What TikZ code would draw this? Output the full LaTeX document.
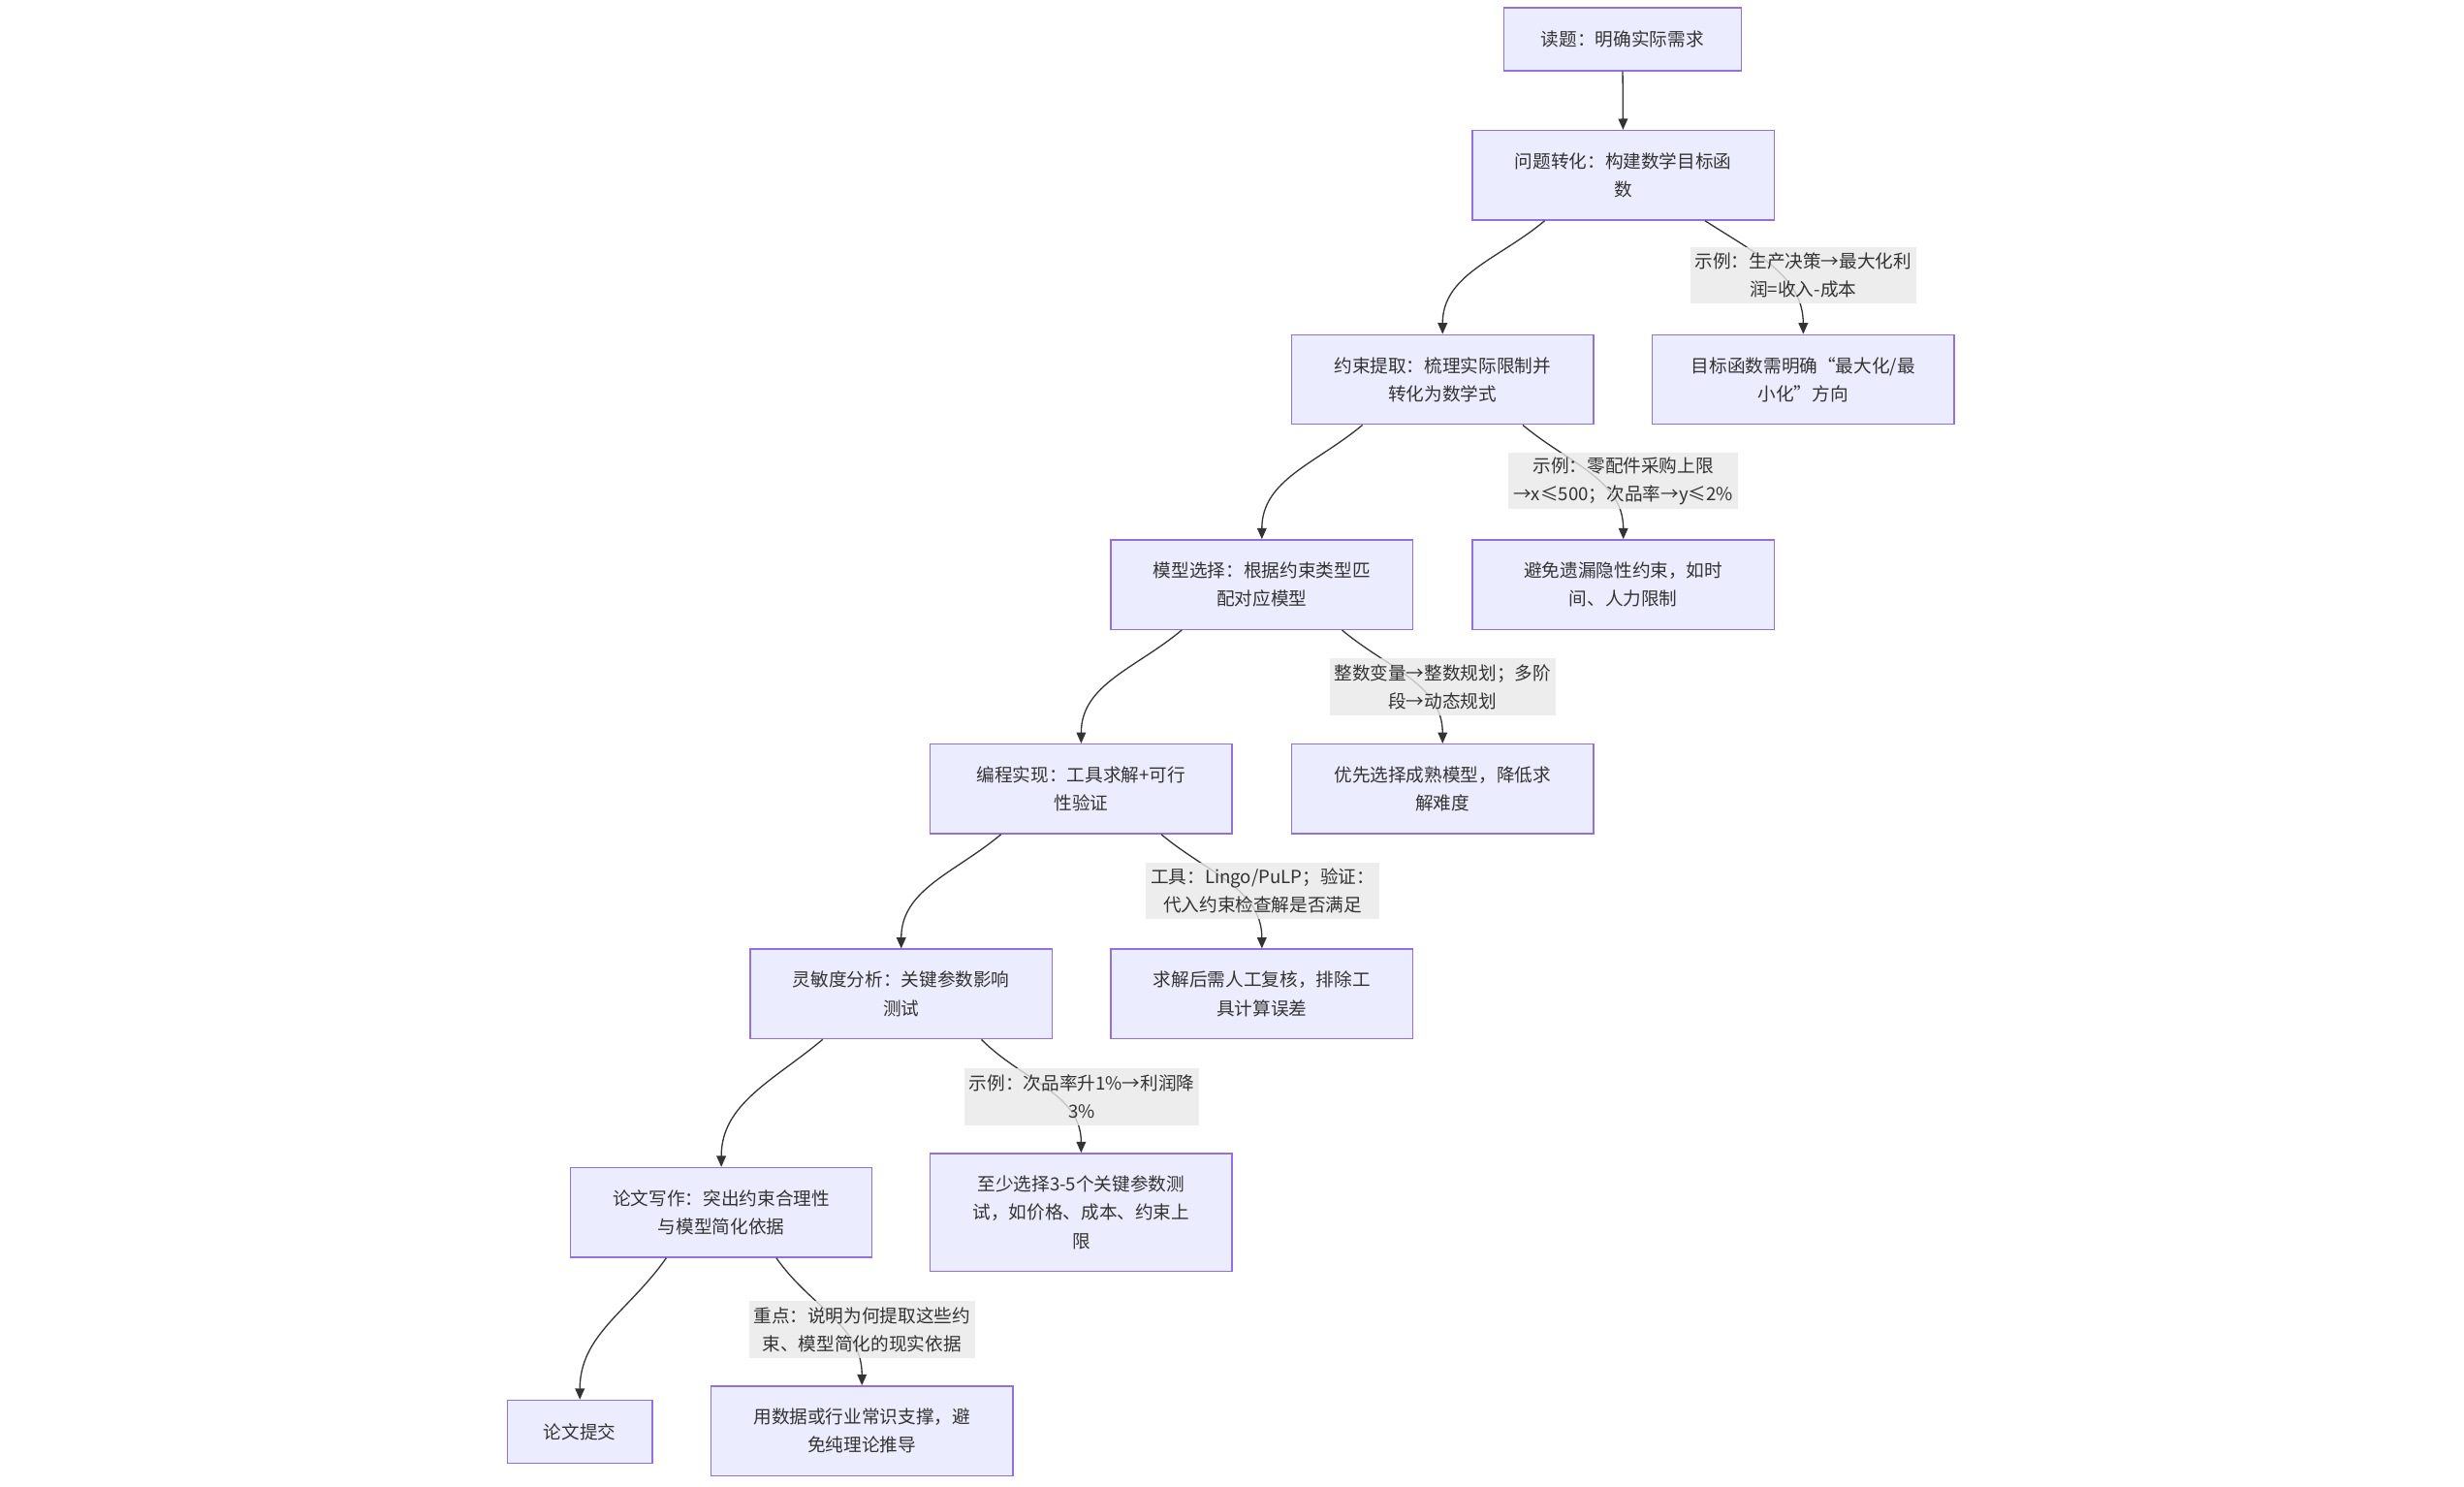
\documentclass[tikz,border=0pt]{standalone}
\usepackage{fontspec}
\newfontfamily\cjk{Noto Sans CJK SC}
\usetikzlibrary{arrows.meta}
\definecolor{boxfill}{HTML}{ECECFF}
\definecolor{boxline}{HTML}{9370DB}
\definecolor{txtgray}{HTML}{333333}
\definecolor{lblfill}{HTML}{E8E8E8}
\tikzset{
  stepbox/.style={draw=boxline, fill=boxfill, line width=0.9pt, minimum width=192pt,
    minimum height=57pt, inner sep=0pt, align=center, text=txtgray,
    font=\cjk\fontsize{11.5}{18}\selectfont},
  edgelabel/.style={fill=lblfill, fill opacity=0.8, text opacity=1, inner xsep=3pt,
    inner ysep=1pt, minimum height=36pt, align=center, text=txtgray,
    font=\cjk\fontsize{11.5}{18}\selectfont},
  flow/.style={draw=txtgray, line width=0.8pt, -{Triangle[length=7pt,width=6pt]}}
}
\begin{document}
\begin{tikzpicture}[x=1pt,y=-1pt]
                    \useasboundingbox (0,0) rectangle (1568,946);
                    \node[stepbox, minimum width=151pt, minimum height=40pt] (read) at (1032.5,25) {读题：明确实际需求};
                    \node[stepbox] (trans) at (1033,111.5) {问题转化：构建数学目标函\\数};
                    \node[stepbox] (cons) at (918,241.5) {约束提取：梳理实际限制并\\转化为数学式};
                    \node[stepbox] (obj) at (1147.5,241.5) {目标函数需明确“最大化/最\\小化”方向};
                    \node[stepbox] (model) at (803,372) {模型选择：根据约束类型匹\\配对应模型};
                    \node[stepbox] (hidden) at (1033,372) {避免遗漏隐性约束，如时\\间、人力限制};
                    \node[stepbox] (code) at (688,502) {编程实现：工具求解+可行\\性验证};
                    \node[stepbox] (mature) at (918,502) {优先选择成熟模型，降低求\\解难度};
                    \node[stepbox] (sens) at (573.5,632.5) {灵敏度分析：关键参数影响\\测试};
                    \node[stepbox] (check) at (803,632.5) {求解后需人工复核，排除工\\具计算误差};
                    \node[stepbox] (paper) at (459,771.5) {论文写作：突出约束合理性\\与模型简化依据};
                    \node[stepbox, minimum height=75pt] (param) at (688,771.5) {至少选择3-5个关键参数测\\试，如价格、成本、约束上\\限};
                    \node[stepbox, minimum width=92pt, minimum height=40pt] (submit) at (369,911) {论文提交};
                    \node[stepbox] (data) at (548.5,910.5) {用数据或行业常识支撑，避\\免纯理论推导};
                    \draw[flow] (read) -- (trans);
                    \draw[flow] ([xshift=-50pt]trans.south) to[out=-140,in=90] (cons.north);
                    \draw[flow] ([xshift=52pt]trans.south) to[out=-33,in=90] (obj.north);
                    \draw[flow] ([xshift=-51pt]cons.south) to[out=-140,in=90] (model.north);
                    \draw[flow] ([xshift=51pt]cons.south) to[out=-40,in=90] (hidden.north);
                    \draw[flow] ([xshift=-51pt]model.south) to[out=-140,in=90] (code.north);
                    \draw[flow] ([xshift=51pt]model.south) to[out=-40,in=90] (mature.north);
                    \draw[flow] ([xshift=-51pt]code.south) to[out=-140,in=90] (sens.north);
                    \draw[flow] ([xshift=51pt]code.south) to[out=-40,in=90] (check.north);
                    \draw[flow] ([xshift=-50pt]sens.south) to[out=-140,in=90] (paper.north);
                    \draw[flow] ([xshift=51pt]sens.south) to[out=-45,in=90] (param.north);
                    \draw[flow] ([xshift=-35pt]paper.south) to[out=-125,in=90] (submit.north);
                    \draw[flow] ([xshift=35pt]paper.south) to[out=-55,in=90] (data.north);
                    \node[edgelabel] (lab1) at (1147.5,175) {示例：生产决策→最大化利\\润=收入-成本};
                    \node[edgelabel] (lab2) at (1033,306) {示例：零配件采购上限\\→x≤500；次品率→y≤2\%};
                    \node[edgelabel] (lab3) at (918,437) {整数变量→整数规划；多阶\\段→动态规划};
                    \node[edgelabel] (lab4) at (803.5,567) {工具：Lingo/PuLP；验证：\\代入约束检查解是否满足};
                    \node[edgelabel] (lab5) at (688.5,698) {示例：次品率升1\%→利润降\\3\%};
                    \node[edgelabel] (lab6) at (548.5,846) {重点：说明为何提取这些约\\束、模型简化的现实依据};
                \end{tikzpicture}
\end{document}
